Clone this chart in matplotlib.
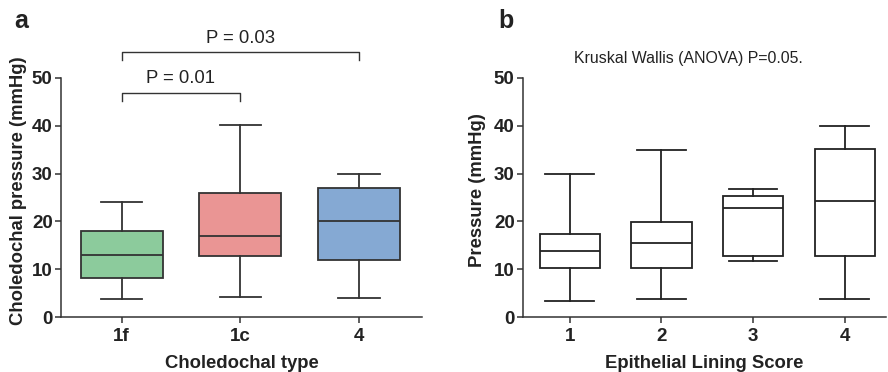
import matplotlib
matplotlib.use("Agg")
import matplotlib.pyplot as plt

plt.rcParams['font.family'] = ['Liberation Sans', 'DejaVu Sans']

# Panel a data
a_categories = ["1f", "1c", "4"]
a_whislo = [3.7, 4.2, 4.0]
a_q1 = [8.1, 12.8, 12.0]
a_med = [13.0, 16.9, 20.1]
a_q3 = [17.9, 26.0, 26.9]
a_whishi = [24.1, 40.2, 30.0]
a_colors = ["#8ccb9c", "#ea9594", "#85a9d3"]

# Panel b data
b_categories = ["1", "2", "3", "4"]
b_whislo = [3.4, 3.7, 11.8, 3.7]
b_q1 = [10.3, 10.3, 12.7, 12.7]
b_med = [13.8, 15.5, 22.8, 24.2]
b_q3 = [17.3, 19.8, 25.4, 35.2]
b_whishi = [30.0, 34.9, 26.8, 40.0]

a_brackets = [(0, 1, 46.9, "P = 0.01"), (0, 2, 55.4, "P = 0.03")]
b_title = "Kruskal Wallis (ANOVA) P=0.05."

EDGE = "#333333"
TXT = "#222222"

fig = plt.figure(figsize=(8.88, 3.72), dpi=100)
axa = fig.add_axes([61/888, 1-317/372, (422-61)/888, (317-78)/372])
axb = fig.add_axes([523/888, 1-317/372, (886-523)/888, (317-78)/372])


def stats(lo, q1, med, q3, hi):
    return [dict(whislo=l, q1=a, med=m, q3=b, whishi=h, fliers=[])
            for l, a, m, b, h in zip(lo, q1, med, q3, hi)]


def style(ax):
    for s in ["top", "right"]:
        ax.spines[s].set_visible(False)
    for s in ["left", "bottom"]:
        ax.spines[s].set_color(EDGE)
        ax.spines[s].set_linewidth(1.1)
    ax.set_ylim(0, 50)
    ax.set_yticks([0, 10, 20, 30, 40, 50])
    ax.tick_params(axis="both", direction="out", length=4, width=1.1, color=EDGE,
                   labelsize=13.5)
    ax.tick_params(axis="y", pad=2)
    ax.tick_params(axis="x", pad=4)
    for t in ax.get_xticklabels() + ax.get_yticklabels():
        t.set_fontweight("bold")
        t.set_color(TXT)


lw = 1.3
bpa = axa.bxp(stats(a_whislo, a_q1, a_med, a_q3, a_whishi), positions=range(3),
              widths=0.69, patch_artist=True, showfliers=False,
              boxprops=dict(edgecolor=EDGE, linewidth=lw),
              medianprops=dict(color=EDGE, linewidth=lw),
              whiskerprops=dict(color=EDGE, linewidth=lw),
              capprops=dict(color=EDGE, linewidth=lw), capwidths=0.35)
for p, c in zip(bpa["boxes"], a_colors):
    p.set_facecolor(c)
axa.set_xlim(-0.51, 2.53)
axa.set_xticks(range(3))
axa.set_xticklabels(a_categories)
style(axa)
axa.set_ylabel("Choledochal pressure (mmHg)", fontsize=13.3, fontweight="bold",
               color=TXT)
axa.yaxis.set_label_coords(-0.094, 0.53)
axa.set_xlabel("Choledochal type", fontsize=13.3, fontweight="bold",
               color=TXT, labelpad=7)
for x0, x1, y, txt in a_brackets:
    axa.plot([x0, x0, x1, x1], [y - 1.7, y, y, y - 1.7], color=EDGE, lw=1.0,
             clip_on=False)
    axa.text((x0 + x1) / 2, y + 2.0, txt, ha="center", va="baseline",
             fontsize=13.3, color=TXT, clip_on=False)

bpb = axb.bxp(stats(b_whislo, b_q1, b_med, b_q3, b_whishi), positions=range(4),
              widths=0.66, patch_artist=True, showfliers=False,
              boxprops=dict(edgecolor=TXT, facecolor="white", linewidth=lw),
              medianprops=dict(color=TXT, linewidth=lw),
              whiskerprops=dict(color=TXT, linewidth=lw),
              capprops=dict(color=TXT, linewidth=lw), capwidths=0.53)
axb.set_xlim(-0.51, 3.45)
axb.set_xticks(range(4))
axb.set_xticklabels(b_categories)
style(axb)
axb.set_ylabel("Pressure (mmHg)", fontsize=13.3, fontweight="bold",
               color=TXT)
axb.yaxis.set_label_coords(-0.102, 0.53)
axb.set_xlabel("Epithelial Lining Score", fontsize=13.3, fontweight="bold",
               color=TXT, labelpad=7)
fig.text(688/888, 1-63/372, b_title, ha="center", va="baseline",
         fontsize=11.4, color=TXT)

fig.text(14/888, 1-28/372, "a", fontsize=18, fontweight="bold", color=TXT)
fig.text(498/888, 1-28/372, "b", fontsize=18, fontweight="bold", color=TXT)

fig.savefig("out.png", dpi=100)
